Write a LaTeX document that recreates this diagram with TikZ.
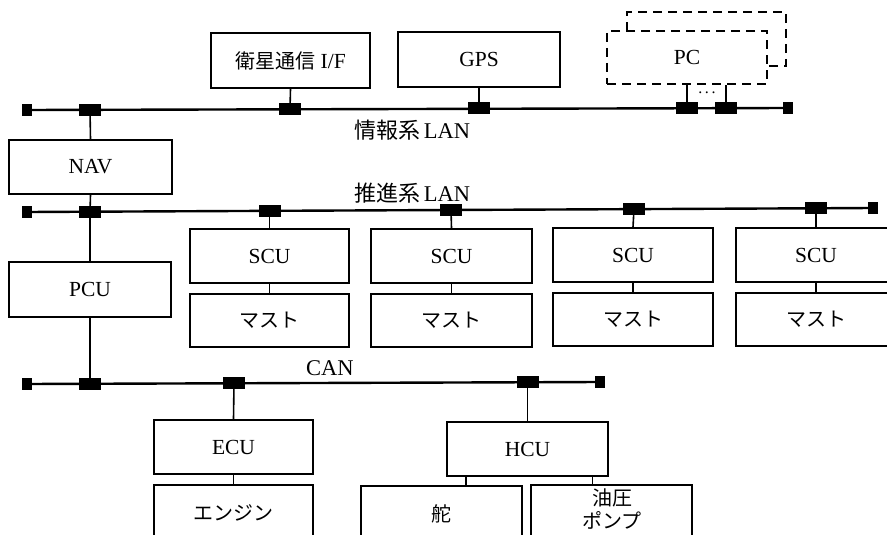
\documentclass[tikz,border=0pt]{standalone}
\usepackage{fontspec}
\setmainfont{Liberation Serif}
\newfontfamily\cjk{Noto Sans CJK JP}
\usetikzlibrary{calc}
\newcommand{\jp}{\cjk\fontsize{20}{23}\selectfont}
\tikzset{
  unit/.style={draw, line width=1.8pt, minimum width=160pt, minimum height=54pt, inner sep=0pt, font=\fontsize{21.5}{25}\selectfont},
  pcbox/.style={unit, dashed, dash pattern=on 9pt off 6pt},
  tap/.style={fill=black, draw=none, minimum width=22pt, minimum height=12pt, inner sep=0pt},
  term/.style={fill=black, draw=none, minimum width=10pt, minimum height=12pt, inner sep=0pt},
  bus/.style={line width=2.4pt},
  drop/.style={line width=1.6pt},
  lbl/.style={font=\fontsize{22.5}{26}\selectfont, inner sep=0pt, anchor=west}
}
\begin{document}
\begin{tikzpicture}[x=1pt,y=-1pt]
\clip (0,0) rectangle (887,535);
\fill[white] (0,0) rectangle (887,535);

% ---------- boxes ----------
\node[unit, minimum width=159pt, minimum height=55pt] (sat) at (290.5,60.5) {{\jp 衛星通信} I/F};
\node[unit, minimum width=162pt, minimum height=55pt] (gps) at (479,59.5) {GPS};
\draw[line width=1.8pt, dash pattern=on 9pt off 6pt] (627,31) -- (627,12) -- (786,12) -- (786,66) -- (767,66);
\node[pcbox, minimum width=160pt, minimum height=53pt] (pc) at (687,57.5) {PC};

\node[unit, minimum width=163pt] (nav) at (90.5,167) {NAV};
\node[unit, minimum width=162pt, minimum height=55pt] (pcu) at (90,289.5) {PCU};

\node[unit, minimum width=159pt] (scu1) at (269.5,256) {SCU};
\node[unit, minimum width=159pt, minimum height=53pt] (mast1) at (269.5,320.5) {\jp マスト};
\node[unit, minimum width=161pt] (scu2) at (451.5,256) {SCU};
\node[unit, minimum width=161pt, minimum height=53pt] (mast2) at (451.5,320.5) {\jp マスト};
\node[unit] (scu3) at (633,255) {SCU};
\node[unit, minimum height=53pt] (mast3) at (633,319.5) {\jp マスト};
\node[unit] (scu4) at (816,255) {SCU};
\node[unit, minimum height=53pt] (mast4) at (816,319.5) {\jp マスト};

\node[unit, minimum width=159pt] (ecu) at (233.5,447) {ECU};
\node[unit, minimum width=159pt, minimum height=55pt] (eng) at (233.5,512.5) {\jp エンジン};
\node[unit, minimum width=161pt] (hcu) at (527.5,449) {HCU};
\node[unit, minimum width=161pt, minimum height=55pt] (rud) at (441.5,513.5) {\jp 舵};
\node[unit, minimum width=161pt, minimum height=55pt] (pump) at (611.5,512.5) {};
\node[inner sep=0pt] (pumptxt) at (612,512) {\jp\begin{tabular}{@{}c@{}}油圧\\[-1pt]ポンプ\end{tabular}};

% ---------- info LAN ----------
\node[term] (iL) at (27,110) {};
\node[term] (iR) at (788,108) {};
\draw[bus] (iL) -- (iR);
\node[tap] (iNav) at (90,110) {};
\node[tap] (iSat) at (290,109) {};
\node[tap] (iGps) at (479,108.5) {};
\node[tap] (iPc1) at (687,108) {};
\node[tap] (iPc2) at (726,108) {};
\node[font=\fontsize{16}{18}\selectfont, inner sep=0pt] (dots) at (707,93) {.\,.\,.};
\node[lbl] (infolbl) at (354,130) {{\cjk\fontsize{22}{25}\selectfont 情報系}\,LAN};

% ---------- propulsion LAN ----------
\node[term] (pL) at (27,212) {};
\node[term] (pR) at (873,208) {};
\draw[bus] (pL) -- (pR);
\node[tap] (pNav) at (90,212) {};
\node[tap] (pS1) at (269.5,211) {};
\node[tap] (pS2) at (451,210) {};
\node[tap] (pS3) at (634,209) {};
\node[tap] (pS4) at (816,208) {};
\node[lbl] (proplbl) at (354,193) {{\cjk\fontsize{22}{25}\selectfont 推進系}\,LAN};

% ---------- CAN ----------
\node[term] (cL) at (27,384) {};
\node[term] (cR) at (600,382) {};
\draw[bus] (cL) -- (cR);
\node[tap] (cPcu) at (90,384) {};
\node[tap] (cEcu) at (234,383) {};
\node[tap] (cHcu) at (527.5,382) {};
\node[lbl] (canlbl) at (306,368) {CAN};

% ---------- drops ----------
\draw[drop] (sat.south) -- (iSat);
\draw[drop] (gps.south) -- (iGps);
\draw[drop] (iPc1) -- (iPc1 |- pc.south);
\draw[drop] (iPc2) -- (iPc2 |- pc.south);
\draw[drop] (iNav) -- (nav.north);
\draw[drop] (nav.south) -- (pNav);
\draw[drop] (pNav) -- (pcu.north);
\draw[drop] (pcu.south) -- (cPcu);
\draw[drop] (pS1) -- (scu1.north);
\draw[drop] (pS2) -- (scu2.north);
\draw[drop] (pS3) -- (scu3.north);
\draw[drop] (pS4) -- (scu4.north);
\draw[drop] (scu1.south) -- (mast1.north);
\draw[drop] (scu2.south) -- (mast2.north);
\draw[drop] (scu3.south) -- (mast3.north);
\draw[drop] (scu4.south) -- (mast4.north);
\draw[drop] (cEcu) -- (ecu.north);
\draw[drop] (ecu.south) -- (eng.north);
\draw[drop] (cHcu) -- (hcu.north);
\coordinate (h1) at ($(hcu.south west)!0.124!(hcu.south east)$);
\coordinate (h2) at ($(hcu.south west)!0.90!(hcu.south east)$);
\draw[drop] (h1) -- (h1 |- rud.north);
\draw[drop] (h2) -- (h2 |- pump.north);
\end{tikzpicture}
\end{document}
